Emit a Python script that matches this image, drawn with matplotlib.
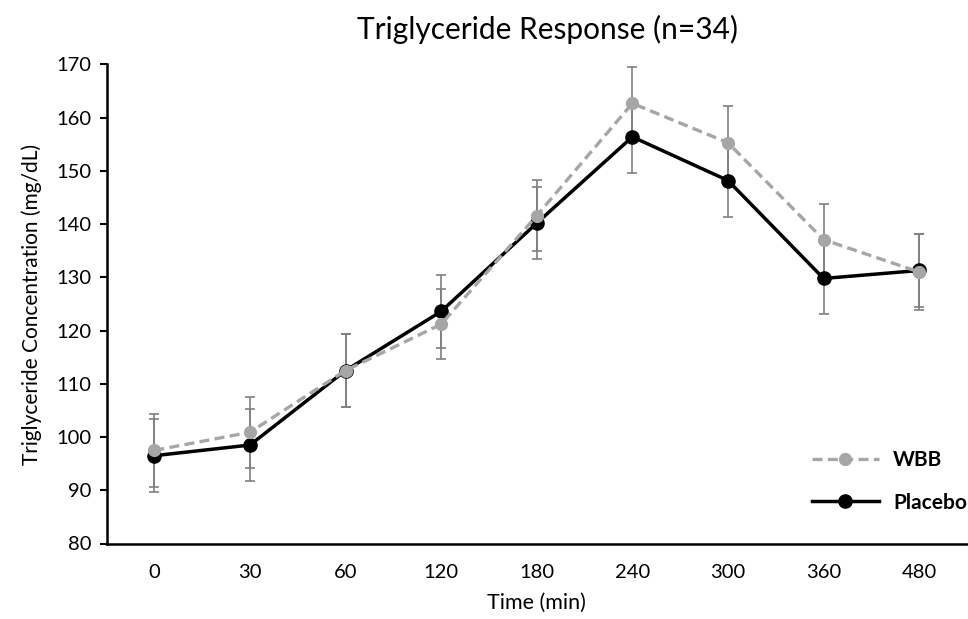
import matplotlib
matplotlib.use("Agg")
import matplotlib.pyplot as plt
import numpy as np

categories = ["0", "30", "60", "120", "180", "240", "300", "360", "480"]
wbb = [97.5, 100.9, 112.5, 121.2, 141.6, 162.7, 155.3, 137.1, 131.0]
wbb_err = [6.8, 6.7, 6.8, 6.6, 6.7, 6.9, 6.9, 6.7, 7.1]
placebo = [96.5, 98.5, 112.5, 123.6, 140.2, 156.4, 148.2, 129.8, 131.3]
placebo_err = [6.8, 6.7, 6.8, 6.8, 6.7, 6.7, 6.9, 6.7, 6.8]

plt.rcParams['font.family'] = ['Lato', 'DejaVu Sans']

fig = plt.figure(figsize=(9.68, 6.19), dpi=100)
ax = fig.add_axes([106.5/968, 1 - 543.5/619, (967-106.5)/968, (543.5-64.5)/619])

x = np.arange(len(categories))
errc = '#7f7f7f'
ax.errorbar(x, wbb, yerr=wbb_err, fmt='none', ecolor=errc, elinewidth=1.2, capsize=3.6, capthick=1.2, zorder=2)
ax.errorbar(x, placebo, yerr=placebo_err, fmt='none', ecolor=errc, elinewidth=1.2, capsize=3.6, capthick=1.2, zorder=2)
ax.plot(x, placebo, color='black', lw=2.5, marker='o', ms=9.5, label='Placebo', zorder=3)
ax.plot(x, wbb, color='#a6a6a6', lw=2.4, ls=(0, (3, 1.6)), marker='o', ms=8.5, label='WBB', zorder=4)

ax.set_xlim(-0.5, len(categories) - 0.5)
ax.set_ylim(80, 170)
ax.set_yticks(np.arange(80, 171, 10))
ax.set_xticks(x)
ax.set_xticklabels(categories)
ax.tick_params(axis='x', length=0, labelsize=14.5, pad=15)
ax.tick_params(axis='y', length=5, width=1.5, labelsize=14.5, pad=6)
for s in ['top', 'right']:
    ax.spines[s].set_visible(False)
for s in ['left', 'bottom']:
    ax.spines[s].set_linewidth(1.8)

ax.set_title('Triglyceride Response (n=34)', fontsize=21.5, pad=18, x=0.512)
ax.set_xlabel('Time (min)', fontsize=15.5, labelpad=8)
ax.set_ylabel('Triglyceride Concentration (mg/dL)', fontsize=15, labelpad=10)

h, l = ax.get_legend_handles_labels()
leg = ax.legend([h[1], h[0]], [l[1], l[0]], loc='lower right', bbox_to_anchor=(1.022, 0.025),
                frameon=False, handlelength=3.2, labelspacing=1.1, handletextpad=0.7,
                prop={'weight': 'bold', 'size': 15})

fig.savefig('out.png', dpi=100)
